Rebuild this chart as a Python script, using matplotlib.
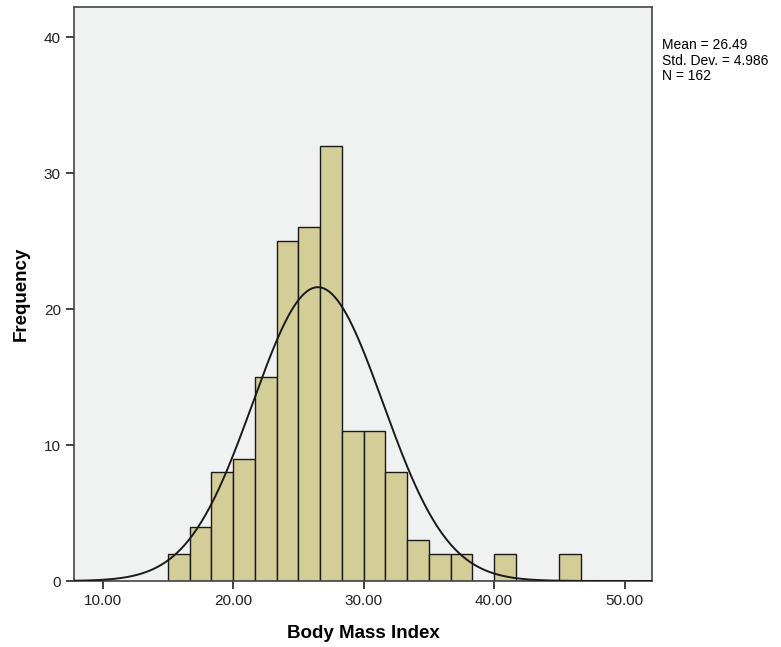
import numpy as np
import matplotlib.pyplot as plt

plt.rcParams['font.family'] = ['Liberation Sans', 'DejaVu Sans']

# histogram data (BMI), bins of width 5/3 starting at 15
bin_start = 15.0
bin_width = 5.0 / 3.0
counts = [2, 4, 8, 9, 15, 25, 26, 32, 11, 11, 8, 3, 2, 2, 0, 2, 0, 0, 2]
mean_bmi = 26.49
sd_bmi = 4.986
n_total = 162
x_ticks = [10, 20, 30, 40, 50]
y_ticks = [0, 10, 20, 30, 40]

edges = bin_start + bin_width * np.arange(len(counts) + 1)

fig = plt.figure(figsize=(7.81, 6.47), dpi=100)
ax = fig.add_axes([0.0948, 0.102, 0.74, 0.887])
ax.set_facecolor('#F0F1F1')

ax.bar(edges[:-1], counts, width=bin_width, align='edge',
       color='#D3CE97', edgecolor='#1a1a1a', linewidth=1.0, zorder=2)

# normal curve scaled to counts
xs = np.linspace(7.8, 52.1, 400)
ys = n_total * bin_width * np.exp(-0.5 * ((xs - mean_bmi) / sd_bmi) ** 2) / (sd_bmi * np.sqrt(2 * np.pi))
ax.plot(xs, ys, color='#1a1a1a', linewidth=1.4, zorder=3)

ax.set_xlim(7.8, 52.1)
ax.set_ylim(0, 42.2)
ax.set_xticks(x_ticks)
ax.set_xticklabels(['%.2f' % t for t in x_ticks])
ax.set_yticks(y_ticks)
ax.tick_params(direction='out', length=6, width=1.2, labelsize=11, colors='#222222')
for s in ax.spines.values():
    s.set_color('#444444')
    s.set_linewidth(1.2)

ax.set_xlabel('Body Mass Index', fontsize=13.5, fontweight='bold', labelpad=12)
ax.set_ylabel('Frequency', fontsize=13.5, fontweight='bold', labelpad=10)

fig.text(0.848, 0.906, 'Mean = 26.49\nStd. Dev. = 4.986\nN = 162',
         fontsize=10, va='center', ha='left', linespacing=1.15)

fig.savefig('out.png', dpi=100)
